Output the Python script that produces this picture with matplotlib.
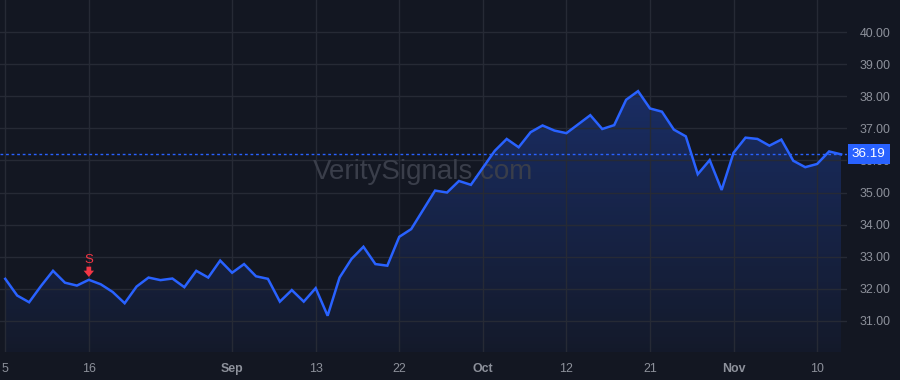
import numpy as np
import matplotlib
matplotlib.use("Agg")
import matplotlib.pyplot as plt
from matplotlib.colors import LinearSegmentedColormap

plt.rcParams["font.family"] = ["Liberation Sans", "DejaVu Sans"]

# ---- data ----
prices = [32.31, 31.79, 31.58, 32.09, 32.56, 32.19, 32.10, 32.28, 32.14, 31.90,
          31.55, 32.07, 32.35, 32.27, 32.32, 32.05, 32.56, 32.35, 32.88, 32.50,
          32.77, 32.39, 32.31, 31.60, 31.96, 31.60, 32.02, 31.16, 32.35, 32.93,
          33.31, 32.77, 32.72, 33.62, 33.86, 34.46, 35.06, 35.00, 35.36, 35.24,
          35.77, 36.30, 36.67, 36.41, 36.88, 37.09, 36.93, 36.85, 37.13, 37.41,
          36.98, 37.10, 37.89, 38.16, 37.62, 37.52, 36.96, 36.75, 35.57, 36.01,
          35.08, 36.24, 36.71, 36.67, 36.46, 36.65, 35.99, 35.79, 35.89, 36.28,
          36.19]
tick_idx = [0, 7, 19, 26, 33, 40, 47, 54, 61, 68]
tick_labels = ["5", "16", "Sep", "13", "22", "Oct", "12", "21", "Nov", "10"]
month_labels = {"Sep", "Oct", "Nov"}
y_ticks = [31, 32, 33, 34, 35, 36, 37, 38, 39, 40]
last_price = 36.19
sell_idx = 7

BG = "#131722"
GRID = "#262a35"
LINE = "#2962FF"
TXT = "#8d919b"
RED = "#f23645"

fig = plt.figure(figsize=(9, 3.8), dpi=100, facecolor=BG)
ax = fig.add_axes([0, 28 / 380, 847 / 900, 352 / 380], facecolor=BG)

x = np.arange(len(prices))
y = np.array(prices)
ymin, ymax = 30.03, 41.0
ax.set_xlim(-0.44, 70.5)
ax.set_ylim(ymin, ymax)

# gradient fill under line
cmap = LinearSegmentedColormap.from_list(
    "g", [(0.161, 0.384, 1.0, 0.04), (0.161, 0.384, 1.0, 0.30)])
grad = np.linspace(0, 1, 256).reshape(-1, 1)
top = max(prices)
im = ax.imshow(grad, extent=[x[0], x[-1], ymin, top], origin="lower",
               aspect="auto", cmap=cmap, zorder=1, interpolation="bicubic")
poly = ax.fill_between(x, y, ymin, facecolor="none", edgecolor="none")
path = poly.get_paths()[0]
im.set_clip_path(path, transform=ax.transData)

ax.plot(x, y, color=LINE, lw=1.8, zorder=3, solid_joinstyle="miter")

# last price dotted line
ax.axhline(last_price, color=LINE, lw=1.0, ls=(0, (2, 2)), zorder=2)

# grid
ax.set_xticks(tick_idx)
ax.set_yticks(y_ticks)
ax.grid(True, color=GRID, lw=1.0, zorder=0)
for s in ax.spines.values():
    s.set_visible(False)
ax.yaxis.tick_right()
ax.tick_params(axis="y", length=0, pad=9, labelsize=8.9, labelcolor=TXT)
ax.tick_params(axis="x", length=0, pad=8, labelsize=8.9, labelcolor=TXT)
ax.set_yticklabels([f"{v:.2f}" for v in y_ticks])
ax.set_xticklabels(tick_labels)
for lab in ax.get_xticklabels():
    if lab.get_text() in month_labels:
        lab.set_fontweight("bold")

# watermark
ax.text(0.5, 0.51, "VeritySignals.com", transform=ax.transAxes, ha="center",
        va="center", fontsize=20, color="#3a3e4a", zorder=2)

# sell marker
ax.annotate("", xy=(sell_idx, prices[sell_idx] + 0.09),
            xytext=(sell_idx, prices[sell_idx] + 0.41),
            arrowprops=dict(arrowstyle="simple,head_width=0.75,head_length=0.45,tail_width=0.34",
                            color=RED, lw=0, mutation_scale=10,
                            shrinkA=0, shrinkB=0), zorder=5)
ax.text(sell_idx, prices[sell_idx] + 0.63, "S", color=RED, ha="center",
        va="center", fontsize=9.5, zorder=5)

# price label on axis
ax.text(1.0 + 5 / 847, last_price, f"{last_price:.2f}",
        transform=ax.get_yaxis_transform(), ha="left", va="center",
        fontsize=9.6, color="white", zorder=10, clip_on=False,
        bbox=dict(boxstyle="square,pad=0.3", fc=LINE, ec="none"))

fig.savefig("out.png", dpi=100, facecolor=BG)
